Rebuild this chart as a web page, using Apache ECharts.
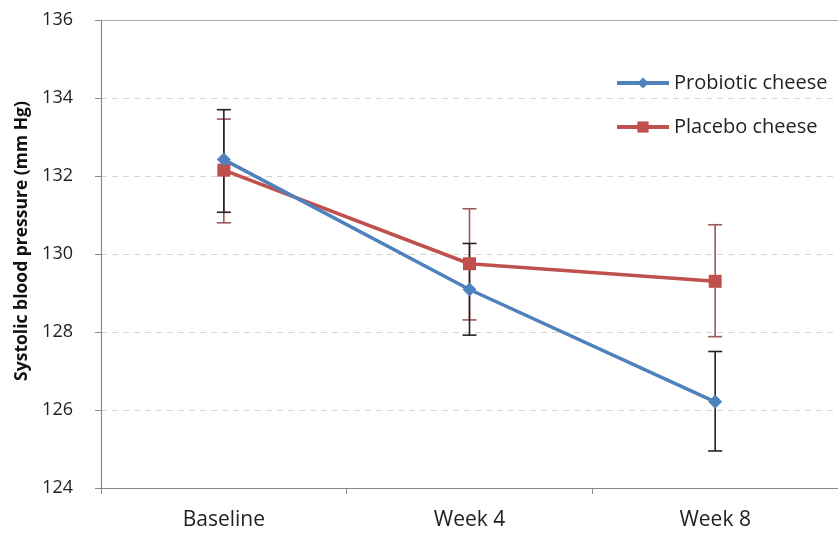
<!DOCTYPE html>
<html><head><meta charset="utf-8">
<script src="https://cdn.jsdelivr.net/npm/echarts@6/dist/echarts.min.js"></script>
<style>html,body{margin:0;padding:0;background:#fff}#c{width:838px;height:536px}</style>
</head><body><div id="c"></div>
<script>
const categories = ['Baseline', 'Week 4', 'Week 8'];
const probiotic = [132.42, 129.09, 126.21];
const probioticLow = [131.07, 127.92, 124.95];
const probioticHigh = [133.70, 130.27, 127.50];
const placebo = [132.15, 129.75, 129.30];
const placeboLow = [130.80, 128.31, 127.88];
const placeboHigh = [133.46, 131.16, 130.75];
const yTicks = {min: 124, max: 136, interval: 2};
const yTitle = 'Systolic blood pressure (mm Hg)';

const font = 'Open Sans, Noto Sans, sans-serif';

function errData(lo, hi) { return categories.map((c, i) => [i, lo[i], hi[i]]); }
function errSeries(lo, hi, color, name) {
  return {
    type: 'custom', name: name, silent: true, z: 1,
    data: errData(lo, hi),
    encode: {x: 0, y: [1, 2]},
    renderItem: function (params, api) {
      const x = api.value(0);
      const p1 = api.coord([x, api.value(1)]);
      const p2 = api.coord([x, api.value(2)]);
      const w = 7;
      const st = {stroke: color, lineWidth: 1.6};
      return {type: 'group', children: [
        {type: 'line', shape: {x1: p1[0], y1: p1[1], x2: p2[0], y2: p2[1]}, style: st},
        {type: 'line', shape: {x1: p1[0] - w, y1: p1[1], x2: p1[0] + w, y2: p1[1]}, style: st},
        {type: 'line', shape: {x1: p2[0] - w, y1: p2[1], x2: p2[0] + w, y2: p2[1]}, style: st}
      ]};
    }
  };
}

const chart = echarts.init(document.getElementById('c'));
chart.setOption({
  animation: false,
  grid: {left: 101, right: -4, top: 20, bottom: 48},
  legend: {
    orient: 'vertical', left: 610, top: 68, itemGap: 24, itemWidth: 52, itemHeight: 14,
    data: ['Probiotic cheese', 'Placebo cheese'],
    lineStyle: {width: 4},
    textStyle: {fontFamily: font, fontSize: 20, color: '#222'}
  },
  graphic: [{
    type: 'text', x: 22, y: 241, rotation: Math.PI / 2,
    style: {text: yTitle, fontFamily: font, fontSize: 17.5, fontWeight: 'bold', fill: '#111',
      align: 'center', verticalAlign: 'middle'}
  }],
  xAxis: [{
    type: 'category', data: categories, boundaryGap: true,
    axisLine: {lineStyle: {color: '#888', width: 1.2}},
    axisTick: {show: true, length: 6, lineStyle: {color: '#888'}},
    axisLabel: {fontFamily: font, fontSize: 21, color: '#222', margin: 22}
  }, {
    type: 'category', data: categories, position: 'top',
    axisLine: {lineStyle: {color: '#aaa', width: 1}},
    axisTick: {show: false}, axisLabel: {show: false}
  }],
  yAxis: {
    type: 'value', min: yTicks.min, max: yTicks.max, interval: yTicks.interval,
    axisLine: {show: true, lineStyle: {color: '#888', width: 1.2}},
    axisTick: {show: true, length: 6, lineStyle: {color: '#888'}},
    axisLabel: {fontFamily: font, fontSize: 18, color: '#222', margin: 28},
    splitLine: {lineStyle: {color: '#d4d4d4', type: [6, 5]}}
  },
  series: [
    errSeries(placeboLow, placeboHigh, '#9c5a5a', 'errPlacebo'),
    errSeries(probioticLow, probioticHigh, '#222222', 'errProbiotic'),
    {
      name: 'Probiotic cheese', type: 'line', data: probiotic, z: 3,
      symbol: 'diamond', symbolSize: 14,
      lineStyle: {color: '#4F81BD', width: 3.5},
      itemStyle: {color: '#4F81BD'}
    },
    {
      name: 'Placebo cheese', type: 'line', data: placebo, z: 2,
      symbol: 'rect', symbolSize: 13,
      lineStyle: {color: '#C0504D', width: 3.5},
      itemStyle: {color: '#C0504D'}
    }
  ]
});
</script></body></html>
